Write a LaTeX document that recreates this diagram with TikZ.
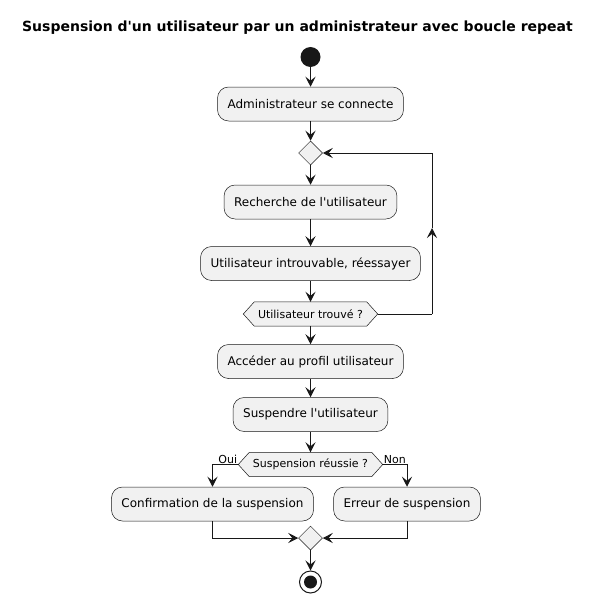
\documentclass[tikz,border=0pt]{standalone}
\usepackage{fontspec}
\setmainfont[Ligatures=TeXOff]{DejaVu Sans}
\usetikzlibrary{arrows.meta,shapes.geometric}
\pgfdeclarelayer{background}
\pgfsetlayers{background,main}
\definecolor{bg}{HTML}{F1F1F1}
\definecolor{ln}{HTML}{181818}
\tikzset{
 act/.style={rectangle, rounded corners=11pt, draw=ln, line width=0.5pt, fill=bg, minimum height=34pt, inner xsep=10pt, inner ysep=0pt, font=\fontsize{12}{14}\selectfont},
 merge/.style={diamond, draw=ln, line width=0.5pt, fill=bg, minimum width=24pt, minimum height=24pt, inner sep=0pt},
 hexnode/.style={inner xsep=14.5pt, inner ysep=0pt, minimum height=24pt, font=\fontsize{11}{13}\selectfont},
 arr/.style={-{Stealth[length=10pt,width=10pt,inset=4pt]}, draw=ln, line width=1pt},
 plain/.style={draw=ln, line width=1pt},
 lbl/.style={font=\fontsize{11}{13}\selectfont, inner sep=1pt},
}
\newcommand\drawhexa[1]{\begin{pgfonlayer}{background}\draw[draw=ln,line width=0.5pt,fill=bg] (#1.west) -- ([xshift=11pt]#1.north west) -- ([xshift=-11pt]#1.north east) -- (#1.east) -- ([xshift=-11pt]#1.south east) -- ([xshift=11pt]#1.south west) -- cycle;\end{pgfonlayer}}
\begin{document}
\begin{tikzpicture}[x=1pt,y=-1pt]
\useasboundingbox (0,0) rectangle (592,602);
\node[font=\bfseries\fontsize{14}{16}\selectfont] (title) at (297.5,28) {Suspension d'un utilisateur par un administrateur avec boucle repeat};

\node[circle, fill=ln, minimum size=20pt, inner sep=0pt] (start) at (310.5,57) {};
\node[act] (b1) at (310.5,104) {Administrateur se connecte};
\node[merge] (m1) at (310.5,153) {};
\node[act] (b2) at (310.5,202) {Recherche de l'utilisateur};
\node[act] (b3) at (310.5,263.5) {Utilisateur introuvable, réessayer};
\node[hexnode] (h1) at (310.5,314) {Utilisateur trouvé ?};
\drawhexa{h1}
\node[act] (b4) at (310.5,361.5) {Accéder au profil utilisateur};
\node[act] (b5) at (310.5,414.5) {Suspendre l'utilisateur};
\node[hexnode] (h2) at (310.5,464.5) {Suspension réussie ?};
\drawhexa{h2}
\node[act] (b6) at (212.5,504) {Confirmation de la suspension};
\node[act] (b7) at (407,504) {Erreur de suspension};
\node[merge] (m2) at (310.5,538) {};
\node[circle, draw=ln, line width=1pt, minimum size=22pt, inner sep=0pt,
  path picture={\fill[ln] (path picture bounding box.center) circle (6.5pt);}] (end) at (310.5,582) {};

\draw[arr] (start) -- (b1);
\draw[arr] (b1) -- (m1);
\draw[arr] (m1) -- (b2);
\draw[arr] (b2) -- (b3);
\draw[arr] (b3) -- (h1);
\coordinate (lc1) at (432,314);
\coordinate (lc2) at (432,228);
\coordinate (lc3) at (432,153);
\draw[plain] (h1.east) -- (lc1);
\draw[arr] (lc1) -- (lc2);
\draw[plain] (lc2) -- (lc3);
\draw[arr] (lc3) -- (m1.east);
\draw[arr] (h1) -- (b4);
\draw[arr] (b4) -- (b5);
\draw[arr] (b5) -- (h2);
\draw[arr] (h2.west) -| (b6.north);
\draw[arr] (h2.east) -| (b7.north);
\node[lbl, anchor=south east] (oui) at (h2.west) {Oui};
\node[lbl, anchor=south west] (non) at (h2.east) {Non};
\draw[arr] (b6.south) |- (m2.west);
\draw[arr] (b7.south) |- (m2.east);
\draw[arr] (m2) -- (end);
\end{tikzpicture}
\end{document}
